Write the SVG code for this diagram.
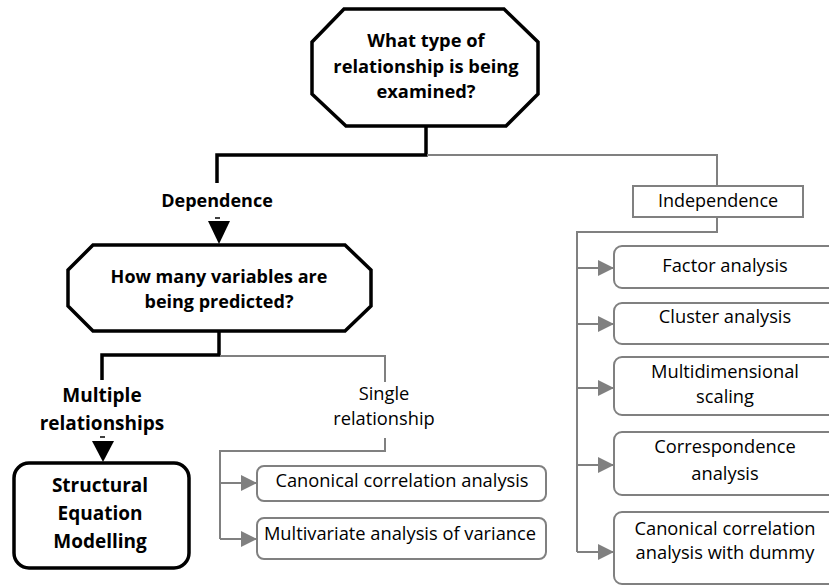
<svg xmlns="http://www.w3.org/2000/svg" width="829" height="585" viewBox="0 0 829 585">
  <defs>
    <marker id="gray-arrow" viewBox="0 0 16 16" refX="16" refY="8" markerWidth="16" markerHeight="16" markerUnits="userSpaceOnUse" orient="auto">
      <path d="M0,0 L16,8 L0,16 Z" fill="#808080"/>
    </marker>
  </defs>
  <style>
    .bold { font-family: "Open Sans", Lato, sans-serif; font-weight: bold; fill: #000; text-anchor: middle; }
    .reg { font-family: "Open Sans", Lato, sans-serif; font-size: 18.3px; fill: #000; text-anchor: middle; }
    .decision { fill: #fff; stroke: #000; stroke-width: 3.5; stroke-linejoin: miter; }
    .result { fill: #fff; stroke: #000; stroke-width: 3.5; }
    .method { fill: #fff; stroke: #808080; stroke-width: 2; }
    .dark { fill: none; stroke: #000; stroke-width: 3.5; }
    .light { fill: none; stroke: #808080; stroke-width: 2; }
  </style>
  <rect width="829" height="585" fill="#fff"/>

  <!-- connectors -->
  <g id="connectors">
    <polyline class="dark" points="426,126 426,155 217,155 217,183"/>
    <polyline class="light" points="427,155 717,155 717,186"/>
    <line x1="215" y1="218" x2="220" y2="218" stroke="#000" stroke-width="1.5"/>
    <polygon points="208,221 230,221 219,244" fill="#000"/>

    <polyline class="dark" points="219,331 219,355 102,355 102,380"/>
    <polyline class="light" points="220,356 385,356 385,382"/>
    <line x1="100" y1="437" x2="105" y2="437" stroke="#000" stroke-width="1.5"/>
    <polygon points="92,441 114,441 103,462" fill="#000"/>

    <polyline class="light" points="385,438 385,451 220,451 220,539"/>
    <line class="light" x1="220" y1="483" x2="257" y2="483" marker-end="url(#gray-arrow)"/>
    <line class="light" x1="220" y1="539" x2="257" y2="539" marker-end="url(#gray-arrow)"/>

    <polyline class="light" points="717,217 717,232 577,232 577,552"/>
    <line class="light" x1="577" y1="268" x2="614" y2="268" marker-end="url(#gray-arrow)"/>
    <line class="light" x1="577" y1="324" x2="614" y2="324" marker-end="url(#gray-arrow)"/>
    <line class="light" x1="577" y1="388" x2="614" y2="388" marker-end="url(#gray-arrow)"/>
    <line class="light" x1="577" y1="465" x2="614" y2="465" marker-end="url(#gray-arrow)"/>
    <line class="light" x1="577" y1="552" x2="614" y2="552" marker-end="url(#gray-arrow)"/>
  </g>

  <g id="relationship-type">
    <polygon class="decision" points="344,9 504,9 538,42 538,94 506,126 346,126 312,94 312,42"/>
    <text class="bold" font-size="18.3" x="426" y="47">What type of</text>
    <text class="bold" font-size="18.3" x="426" y="73">relationship is being</text>
    <text class="bold" font-size="18.3" x="426" y="98">examined?</text>
  </g>

  <g id="dependence-label">
    <text class="bold" font-size="18" x="217" y="207">Dependence</text>
  </g>

  <g id="independence">
    <rect class="method" x="633" y="186" width="170" height="31"/>
    <text class="reg" style="font-size:18px" x="718" y="207">Independence</text>
  </g>

  <g id="variables-predicted">
    <polygon class="decision" points="93,245 345,245 371,270 371,306 345,331 93,331 68,306 68,270"/>
    <text class="bold" font-size="18" x="219" y="283">How many variables are</text>
    <text class="bold" font-size="18" x="219" y="308">being predicted?</text>
  </g>

  <g id="multiple-label">
    <text class="bold" font-size="19" x="102" y="402">Multiple</text>
    <text class="bold" font-size="19" x="102" y="430">relationships</text>
  </g>

  <g id="sem">
    <rect class="result" x="14" y="463" width="175" height="105" rx="15"/>
    <text class="bold" font-size="19" x="100" y="492">Structural</text>
    <text class="bold" font-size="19" x="100" y="520">Equation</text>
    <text class="bold" font-size="19" x="100" y="548">Modelling</text>
  </g>

  <g id="single-label">
    <text class="reg" x="384" y="400">Single</text>
    <text class="reg" x="384" y="425">relationship</text>
  </g>

  <g id="canonical-correlation">
    <rect class="method" x="257" y="466" width="289" height="35" rx="7"/>
    <text class="reg" x="402" y="487">Canonical correlation analysis</text>
  </g>

  <g id="manova">
    <rect class="method" x="257" y="518" width="289" height="41" rx="7"/>
    <text class="reg" x="400" y="540">Multivariate analysis of variance</text>
  </g>

  <g id="factor-analysis">
    <rect class="method" x="614" y="246" width="230" height="42" rx="8"/>
    <text class="reg" x="725" y="272">Factor analysis</text>
  </g>

  <g id="cluster-analysis">
    <rect class="method" x="614" y="303" width="230" height="41" rx="8"/>
    <text class="reg" x="725" y="323">Cluster analysis</text>
  </g>

  <g id="multidimensional-scaling">
    <rect class="method" x="614" y="357" width="230" height="58" rx="8"/>
    <text class="reg" x="725" y="378">Multidimensional</text>
    <text class="reg" x="725" y="403">scaling</text>
  </g>

  <g id="correspondence-analysis">
    <rect class="method" x="614" y="432" width="230" height="63" rx="8"/>
    <text class="reg" x="725" y="453">Correspondence</text>
    <text class="reg" x="725" y="480">analysis</text>
  </g>

  <g id="canonical-dummy">
    <rect class="method" x="614" y="512" width="230" height="72" rx="8"/>
    <text class="reg" x="725" y="535">Canonical correlation</text>
    <text class="reg" x="725" y="559">analysis with dummy</text>
  </g>
</svg>
